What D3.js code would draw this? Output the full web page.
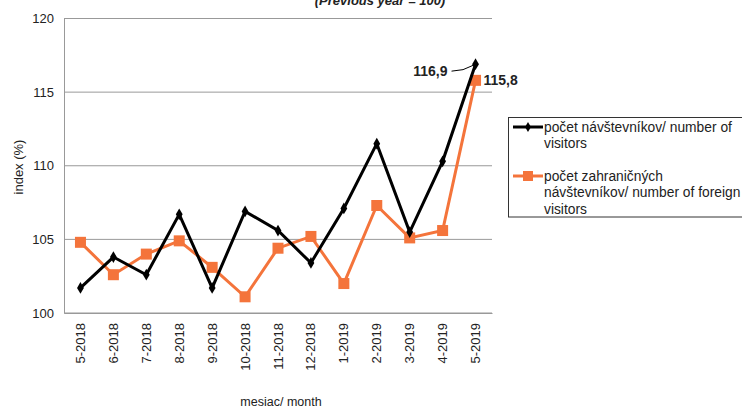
<!DOCTYPE html>
<html>
<head>
<meta charset="utf-8">
<script src="https://cdn.jsdelivr.net/npm/d3@7"></script>
<style>
  body { margin: 0; background: #fff; }
  text { font-family: "Liberation Sans", Arial, sans-serif; fill: #222; }
</style>
</head>
<body>
<svg id="chart" width="742" height="408"></svg>
<script>
// chart data
var months = ['5-2018', '6-2018', '7-2018', '8-2018', '9-2018', '10-2018', '11-2018',
  '12-2018', '1-2019', '2-2019', '3-2019', '4-2019', '5-2019'];
var visitors = [101.7, 103.8, 102.6, 106.7, 101.7, 106.9, 105.6, 103.4, 107.1, 111.5, 105.5, 110.3, 116.9];
var foreignVisitors = [104.8, 102.6, 104.0, 104.9, 103.1, 101.1, 104.4, 105.2, 102.0, 107.3, 105.1, 105.6, 115.8];
var yTicks = [100, 105, 110, 115, 120];

var svg = d3.select('#chart');
var plotLeft = 64, plotRight = 492, plotTop = 18.5, plotBottom = 313;

var x = d3.scaleBand().domain(months).range([plotLeft, plotRight]);
var y = d3.scaleLinear().domain([100, 120]).range([plotBottom, plotTop]);
var cx = function (d) { return x(d) + x.bandwidth() / 2; };

// title (cut off at top)
svg.append('text')
  .attr('x', 380).attr('y', 5)
  .attr('text-anchor', 'middle')
  .style('font-size', '13px').style('font-weight', 'bold').style('font-style', 'italic')
  .text('(Previous year = 100)');

// gridlines
svg.append('g').selectAll('line').data(yTicks).enter().append('line')
  .attr('x1', plotLeft).attr('x2', plotRight)
  .attr('y1', function (d) { return y(d); }).attr('y2', function (d) { return y(d); })
  .attr('stroke', '#999').attr('stroke-width', 1);

// y axis
var yAxis = svg.append('g').attr('transform', 'translate(' + plotLeft + ',0)')
  .call(d3.axisLeft(y).tickValues(yTicks).tickSize(0).tickPadding(10));
yAxis.select('.domain').attr('stroke', '#999');
yAxis.selectAll('text').style('font-size', '13px').style('font-family', '"Liberation Sans", Arial, sans-serif').attr('fill', '#222');

// x axis
var xAxis = svg.append('g').attr('transform', 'translate(0,' + plotBottom + ')')
  .call(d3.axisBottom(x).tickSize(0).tickPadding(0));
xAxis.select('.domain').attr('stroke', '#999');
xAxis.selectAll('text')
  .attr('transform', 'rotate(-90)')
  .attr('x', -10).attr('y', 0).attr('dy', '0.35em')
  .style('text-anchor', 'end')
  .style('font-size', '13px').style('font-family', '"Liberation Sans", Arial, sans-serif').attr('fill', '#222');

// axis titles
svg.append('text')
  .attr('transform', 'translate(23,167) rotate(-90)')
  .attr('text-anchor', 'middle').style('font-size', '13px')
  .text('index (%)');
svg.append('text')
  .attr('x', 281).attr('y', 406)
  .attr('text-anchor', 'middle').style('font-size', '12.5px')
  .text('mesiac/ month');

var line = d3.line()
  .x(function (d, i) { return cx(months[i]); })
  .y(function (d) { return y(d); });

// foreign visitors (orange)
svg.append('path').datum(foreignVisitors)
  .attr('d', line).attr('fill', 'none')
  .attr('stroke', '#f4743b').attr('stroke-width', 3);
svg.append('g').selectAll('rect').data(foreignVisitors).enter().append('rect')
  .attr('x', function (d, i) { return cx(months[i]) - 5.5; })
  .attr('y', function (d) { return y(d) - 5.5; })
  .attr('width', 11).attr('height', 11)
  .attr('fill', '#f4743b');

// visitors (black)
svg.append('path').datum(visitors)
  .attr('d', line).attr('fill', 'none')
  .attr('stroke', '#000').attr('stroke-width', 3);
svg.append('g').selectAll('path').data(visitors).enter().append('path')
  .attr('d', d3.symbol().type(d3.symbolDiamond).size(40))
  .attr('transform', function (d, i) { return 'translate(' + cx(months[i]) + ',' + y(d) + ')'; })
  .attr('fill', '#000');

// data labels for last point
var last = months.length - 1;
var lx = cx(months[last]), ly = y(visitors[last]);
svg.append('text')
  .attr('x', lx - 28).attr('y', ly + 12)
  .attr('text-anchor', 'end')
  .style('font-size', '14px').style('font-weight', 'bold')
  .text(String(visitors[last]).replace('.', ','));
svg.append('path')
  .attr('d', 'M' + (lx - 24) + ',' + (ly + 7) +
    ' Q' + (lx - 12) + ',' + (ly + 7) + ' ' + (lx - 2) + ',' + (ly + 1))
  .attr('fill', 'none').attr('stroke', '#000').attr('stroke-width', 1);
svg.append('text')
  .attr('x', lx + 8).attr('y', y(foreignVisitors[last]) + 5)
  .style('font-size', '14px').style('font-weight', 'bold')
  .text(String(foreignVisitors[last]).replace('.', ','));

// legend
var lg = svg.append('g');
lg.append('rect')
  .attr('x', 508.5).attr('y', 117.5).attr('width', 240).attr('height', 99.5)
  .attr('fill', '#fff').attr('stroke', '#333').attr('stroke-width', 1);
var legendItems = [
  { lines: ['počet návštevníkov/ number of', 'visitors'], color: '#000', y: 127, marker: 'diamond' },
  { lines: ['počet zahraničných', 'návštevníkov/ number of foreign', 'visitors'], color: '#f4743b', y: 176, marker: 'square' }
];
legendItems.forEach(function (it) {
  lg.append('line')
    .attr('x1', 513).attr('x2', 543).attr('y1', it.y).attr('y2', it.y)
    .attr('stroke', it.color).attr('stroke-width', 3);
  if (it.marker === 'square') {
    lg.append('rect').attr('x', 523).attr('y', it.y - 5).attr('width', 10).attr('height', 10).attr('fill', it.color);
  } else {
    lg.append('path').attr('d', d3.symbol().type(d3.symbolDiamond).size(30))
      .attr('transform', 'translate(528,' + it.y + ')').attr('fill', it.color);
  }
  it.lines.forEach(function (t, j) {
    lg.append('text')
      .attr('x', 544).attr('y', it.y + 5 + j * 16.3)
      .style('font-size', '13.8px')
      .text(t);
  });
});
</script>
</body>
</html>
